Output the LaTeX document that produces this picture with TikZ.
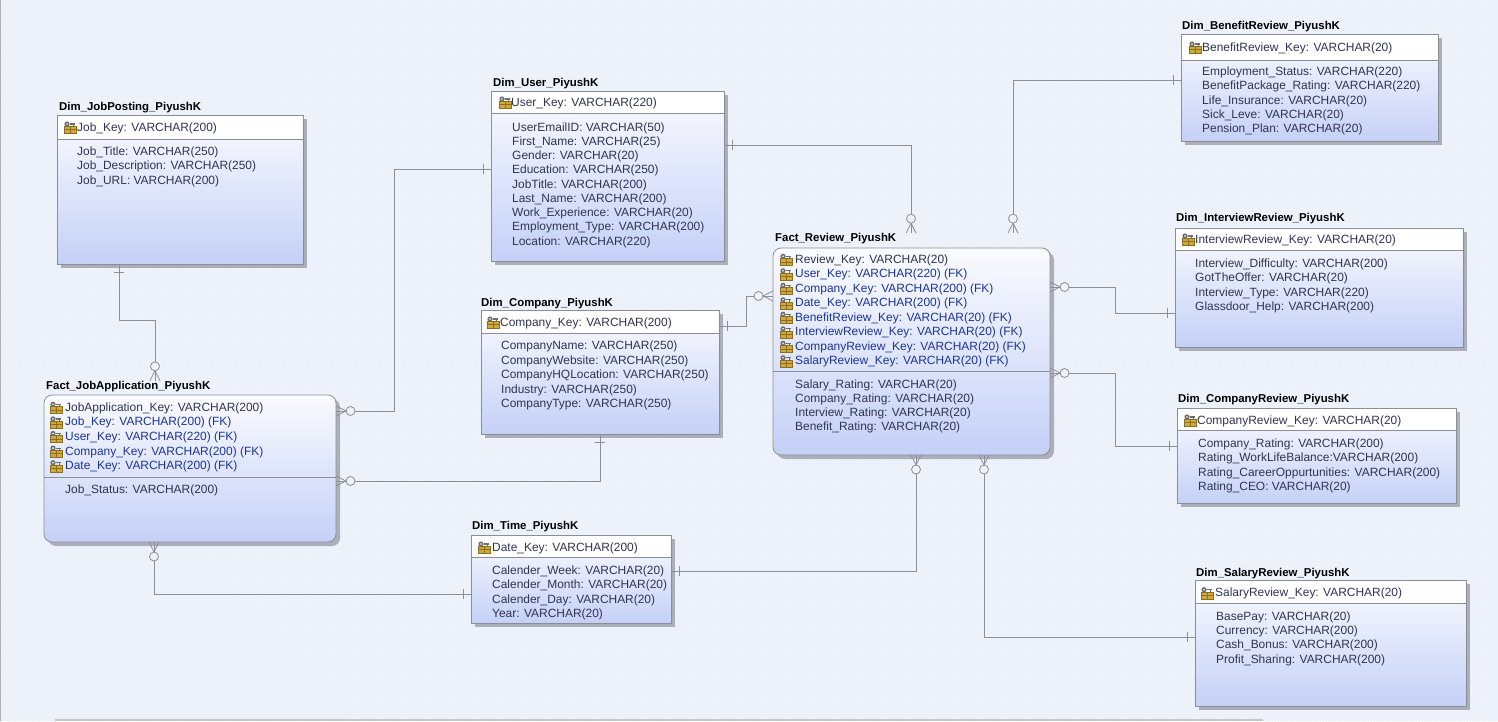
\documentclass[tikz,border=0pt]{standalone}
\usepackage{fontspec}
\setmainfont{Liberation Sans}
\usetikzlibrary{shadows,patterns}
\definecolor{bg}{RGB}{238,243,251}
\definecolor{dotc}{RGB}{222,231,245}
\definecolor{bd}{RGB}{140,142,150}
\definecolor{linec}{RGB}{140,142,152}
\definecolor{attrc}{RGB}{48,52,80}
\definecolor{fkc}{RGB}{28,52,150}
\definecolor{boxtop}{RGB}{250,251,255}
\definecolor{boxbot}{RGB}{196,208,247}
\definecolor{shad}{RGB}{172,175,185}
\definecolor{gold}{RGB}{206,170,62}
\definecolor{goldd}{RGB}{140,110,30}
\definecolor{keyg}{RGB}{110,110,110}
\tikzset{
 ent/.style={rectangle, anchor=north west, inner sep=0pt, outer sep=0pt,
   top color=boxtop, bottom color=boxbot,
   drop shadow={shadow xshift=4pt, shadow yshift=-4pt, fill=shad, opacity=1}},
 fact/.style={ent, rounded corners=8pt, draw=bd, line width=0.8pt},
 bdr/.style={draw=bd, line width=0.8pt},
 ttl/.style={anchor=base west, inner sep=0pt, font=\fontsize{11.4}{13}\selectfont\bfseries},
 attr/.style={anchor=base west, inner sep=0pt, text=attrc, font=\fontsize{11.95}{13}\selectfont},
 fk/.style={attr, text=fkc},
 rel/.style={draw=linec, line width=0.8pt},
 cfoot/.pic={\draw[rel] (0,-5)--(10,0)--(0,5); \draw[rel,fill=bg] (14.5,0) circle[radius=4.5pt];},
 onebar/.pic={\draw[rel] (8,-5)--(8,5);},
 keyic/.pic={\fill[gold, draw=goldd, line width=0.4pt] (-6,-1) rectangle (6,6);
   \draw[goldd, line width=0.4pt] (-6,2.5) -- (6,2.5) (0,-1) -- (0,6);
   \fill[keyg] (-3,-3) circle[radius=2.6pt];
   \fill[white] (-3,-3) circle[radius=0.9pt];
   \draw[keyg, line width=1.2pt] (-0.5,-3) -- (5,-3) (3.5,-3) -- (3.5,-1);}
}
\newcommand\dimentity[6]{%
 \node[ent, minimum width=#4, minimum height=#5] (#1) at (#2,#3) {};
 \fill[white] (#2,#3) rectangle (#2+#4,#6);
 \draw[bdr] (#1.north west) rectangle (#1.south east);
 \draw[bdr] (#1.west |- 0,#6) -- (#1.east |- 0,#6);
}
\newcommand\rowlist[6]{%
 \foreach \t [count=\i from 0] in {#6} \node[#2] (#1\i) at (#3,#4+#5*\i) {\t};
}
\begin{document}
\begin{tikzpicture}[x=1pt,y=-1pt]
\useasboundingbox (0,0) rectangle (1498,721);
\fill[bg] (0,0) rectangle (1498,721);
\fill[pattern=dots, pattern color=dotc] (0,0) rectangle (1498,721);
\draw[gray!60] (0.5,0) -- (0.5,721);
\draw[gray!45, line width=1.5pt] (55,720) -- (1263,720);

% Dim_JobPosting
\dimentity{jp}{57}{115}{246}{149}{139}
\node[ttl] (jpt) at (59,110) {Dim\_JobPosting\_PiyushK};
\pic at (70,127) {keyic};
\node[attr] (jpk) at (77,131) {Job\_Key: VARCHAR(200)};
\rowlist{jpa}{attr}{77}{155.7}{14.2}{Job\_Title: VARCHAR(250), Job\_Description: VARCHAR(250), Job\_URL: VARCHAR(200)}

% Dim_User
\dimentity{us}{491}{91}{233}{170}{113}
\node[ttl] (ust) at (493,86) {Dim\_User\_PiyushK};
\pic at (505,102) {keyic};
\node[attr] (usk) at (511,106) {User\_Key: VARCHAR(220)};
\rowlist{usa}{attr}{512}{131}{14.25}{UserEmailID: VARCHAR(50), First\_Name: VARCHAR(25), Gender: VARCHAR(20), Education: VARCHAR(250), JobTitle: VARCHAR(200), Last\_Name: VARCHAR(200), Work\_Experience: VARCHAR(20), Employment\_Type: VARCHAR(200), Location: VARCHAR(220)}

% Dim_Company
\dimentity{co}{481}{310}{238}{124}{333}
\node[ttl] (cot) at (481,306) {Dim\_Company\_PiyushK};
\pic at (493,322) {keyic};
\node[attr] (cok) at (500,326) {Company\_Key: VARCHAR(200)};
\rowlist{coa}{attr}{501}{349.5}{14.5}{CompanyName: VARCHAR(250), CompanyWebsite: VARCHAR(250), CompanyHQLocation: VARCHAR(250), Industry: VARCHAR(250), CompanyType: VARCHAR(250)}

% Dim_Time
\dimentity{ti}{471}{535}{200}{88}{557}
\node[ttl] (tit) at (472,529) {Dim\_Time\_PiyushK};
\pic at (484,547) {keyic};
\node[attr] (tik) at (492,551) {Date\_Key: VARCHAR(200)};
\rowlist{tia}{attr}{492}{574.5}{14.33}{Calender\_Week: VARCHAR(20), Calender\_Month: VARCHAR(20), Calender\_Day: VARCHAR(20), Year: VARCHAR(20)}

% Dim_BenefitReview
\dimentity{br}{1181}{34}{257}{107}{60}
\node[ttl] (brt) at (1182,29) {Dim\_BenefitReview\_PiyushK};
\pic at (1195,47) {keyic};
\node[attr] (brk) at (1202,51) {BenefitReview\_Key: VARCHAR(20)};
\rowlist{bra}{attr}{1202}{75.7}{14.2}{Employment\_Status: VARCHAR(220), BenefitPackage\_Rating: VARCHAR(220), Life\_Insurance: VARCHAR(20), Sick\_Leve: VARCHAR(20), Pension\_Plan: VARCHAR(20)}

% Dim_InterviewReview
\dimentity{ir}{1175}{228}{288}{119}{250}
\node[ttl] (irt) at (1176,221.6) {Dim\_InterviewReview\_PiyushK};
\pic at (1188,239) {keyic};
\node[attr] (irk) at (1195,243.3) {InterviewReview\_Key: VARCHAR(20)};
\rowlist{ira}{attr}{1195}{267.3}{14.47}{Interview\_Difficulty: VARCHAR(200), GotTheOffer: VARCHAR(20), Interview\_Type: VARCHAR(220), Glassdoor\_Help: VARCHAR(200)}

% Dim_CompanyReview
\dimentity{cr}{1177}{408}{279}{95}{430}
\node[ttl] (crt) at (1178,402.6) {Dim\_CompanyReview\_PiyushK};
\pic at (1190,420) {keyic};
\node[attr] (crk) at (1197,424) {CompanyReview\_Key: VARCHAR(20)};
\rowlist{cra}{attr}{1198}{447.3}{14.47}{Company\_Rating: VARCHAR(200), Rating\_WorkLifeBalance:VARCHAR(200), Rating\_CareerOppurtunities: VARCHAR(200), Rating\_CEO: VARCHAR(20)}

% Dim_SalaryReview
\dimentity{sr}{1195}{580}{271}{126}{603}
\node[ttl] (srt) at (1196,576) {Dim\_SalaryReview\_PiyushK};
\pic at (1207,592.7) {keyic};
\node[attr] (srk) at (1215,596.7) {SalaryReview\_Key: VARCHAR(20)};
\rowlist{sra}{attr}{1216}{620}{14.43}{BasePay: VARCHAR(20), Currency: VARCHAR(200), Cash\_Bonus: VARCHAR(200), Profit\_Sharing: VARCHAR(200)}

% Fact_JobApplication
\node[fact, minimum width=292, minimum height=147] (ja) at (44,395) {};
\draw[bdr] (ja.west |- 0,477) -- (ja.east |- 0,477);
\node[ttl] (jat) at (46,389.3) {Fact\_JobApplication\_PiyushK};
\foreach \i in {0,...,4} \pic at (56,407.3+14.6*\i) {keyic};
\node[attr] (jak) at (65,411.3) {JobApplication\_Key: VARCHAR(200)};
\rowlist{jaf}{fk}{65}{425.9}{14.6}{Job\_Key: VARCHAR(200) (FK), User\_Key: VARCHAR(220) (FK), Company\_Key: VARCHAR(200) (FK), Date\_Key: VARCHAR(200) (FK)}
\node[attr] (jaa) at (65,493) {Job\_Status: VARCHAR(200)};

% Fact_Review
\node[fact, minimum width=277, minimum height=207] (fr) at (773,248) {};
\draw[bdr] (fr.west |- 0,371) -- (fr.east |- 0,371);
\node[ttl] (frt) at (775,241.6) {Fact\_Review\_PiyushK};
\foreach \i in {0,...,7} \pic at (786,259.3+14.5*\i) {keyic};
\node[attr] (frk) at (795,263.3) {Review\_Key: VARCHAR(20)};
\rowlist{frf}{fk}{795}{277.8}{14.5}{User\_Key: VARCHAR(220) (FK), Company\_Key: VARCHAR(200) (FK), Date\_Key: VARCHAR(200) (FK), BenefitReview\_Key: VARCHAR(20) (FK), InterviewReview\_Key: VARCHAR(20) (FK), CompanyReview\_Key: VARCHAR(20) (FK), SalaryReview\_Key: VARCHAR(20) (FK)}
\rowlist{fra}{attr}{795}{388.3}{14.13}{Salary\_Rating: VARCHAR(20), Company\_Rating: VARCHAR(20), Interview\_Rating: VARCHAR(20), Benefit\_Rating: VARCHAR(20)}

% ---- connectors ----
\draw[rel] (jp.south -| 119,0) |- (155,320) -- (jat.north -| 155,0);
\pic[rotate=-90] at (jp.south -| 119,0) {onebar};
\pic[rotate=90] at (jat.north -| 155,0) {cfoot};

\draw[rel] (us.west |- 0,169) -| (394,411) -- (ja.east |- 0,411);
\pic[rotate=180] at (us.west |- 0,169) {onebar};
\pic at (ja.east |- 0,411) {cfoot};

\draw[rel] (co.south -| 600,0) |- (ja.east |- 0,481);
\pic[rotate=-90] at (co.south -| 600,0) {onebar};
\pic at (ja.east |- 0,481) {cfoot};

\draw[rel] (ti.west |- 0,594) -| (ja.south -| 154,0);
\pic[rotate=180] at (ti.west |- 0,594) {onebar};
\pic[rotate=-90] at (ja.south -| 154,0) {cfoot};

\draw[rel] (us.east |- 0,145) -| (frt.north -| 911,0);
\pic at (us.east |- 0,145) {onebar};
\pic[rotate=90] at (frt.north -| 911,0) {cfoot};

\draw[rel] (co.east |- 0,326) -| (746,296) -- (fr.west |- 0,296);
\pic at (co.east |- 0,326) {onebar};
\pic[rotate=180] at (fr.west |- 0,296) {cfoot};

\draw[rel] (br.west |- 0,80) -| (frt.north -| 1013,0);
\pic[rotate=180] at (br.west |- 0,80) {onebar};
\pic[rotate=90] at (frt.north -| 1013,0) {cfoot};

\draw[rel] (ir.west |- 0,313) -| (1115,287) -- (fr.east |- 0,287);
\pic[rotate=180] at (ir.west |- 0,313) {onebar};
\pic at (fr.east |- 0,287) {cfoot};

\draw[rel] (cr.west |- 0,446) -| (1115,373) -- (fr.east |- 0,373);
\pic[rotate=180] at (cr.west |- 0,446) {onebar};
\pic at (fr.east |- 0,373) {cfoot};

\draw[rel] (ti.east |- 0,571) -| (fr.south -| 916,0);
\pic at (ti.east |- 0,571) {onebar};
\pic[rotate=-90] at (fr.south -| 916,0) {cfoot};

\draw[rel] (sr.west |- 0,637) -| (fr.south -| 984,0);
\pic[rotate=180] at (sr.west |- 0,637) {onebar};
\pic[rotate=-90] at (fr.south -| 984,0) {cfoot};
\end{tikzpicture}
\end{document}
